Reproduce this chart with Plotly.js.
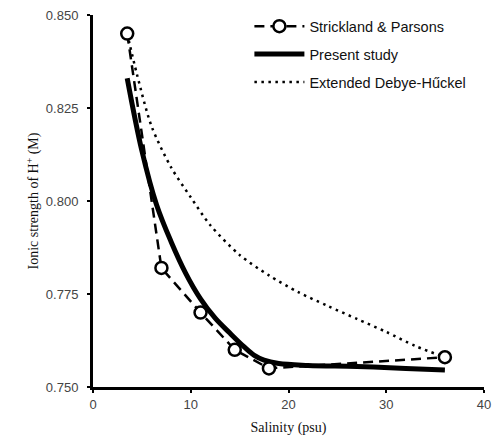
<!DOCTYPE html>
<html>
<head>
<meta charset="utf-8">
<script src="https://cdn.plot.ly/plotly-3.0.1.min.js"></script>
<style>
  html, body { margin: 0; padding: 0; background: #fff; }
  #chart { width: 495px; height: 446px; }
</style>
</head>
<body>
<div id="chart"></div>
<script>
// Strickland & Parsons (measured points)
const spSalinity = [3.5, 7, 11, 14.5, 18, 36];
const spIonic    = [0.845, 0.782, 0.770, 0.760, 0.755, 0.758];

// Present study curve
const psSalinity = [3.5, 5, 6.5, 8, 9.5, 11, 12.5, 14, 15.5, 16.5, 17.5, 19, 22, 27, 32, 36];
const psIonic    = [0.833, 0.8135, 0.799, 0.789, 0.7805, 0.7737, 0.7685, 0.7645, 0.7607, 0.7585, 0.7572, 0.7563, 0.7558, 0.7555, 0.755, 0.7546];

// Extended Debye-Hückel curve
const dhSalinity = [3.5, 4.5, 6, 8, 10, 12, 15, 18, 21, 24, 27, 30, 33, 36];
const dhIonic    = [0.845, 0.834, 0.820, 0.809, 0.801, 0.7935, 0.7855, 0.780, 0.7755, 0.7718, 0.7683, 0.7648, 0.761, 0.758];

const xTicks = [0, 10, 20, 30, 40];
const yTicks = [0.750, 0.775, 0.800, 0.825, 0.850];

const sans = 'Liberation Sans, Arial, sans-serif';
const serif = 'Liberation Serif, DejaVu Serif, serif';

// drawn in this order so the open circles sit on top
const traces = [
  {
    x: psSalinity, y: psIonic, name: 'Present study',
    type: 'scatter', mode: 'lines', legendgroup: 'b', legendrank: 2,
    line: { color: '#000', width: 5, shape: 'spline', smoothing: 1 }
  },
  {
    x: dhSalinity, y: dhIonic, name: 'Extended Debye-H\u0171ckel',
    type: 'scatter', mode: 'lines', legendgroup: 'c', legendrank: 3,
    line: { color: '#000', width: 2.5, dash: '2.5px,4.5px', shape: 'spline', smoothing: 0.8 }
  },
  {
    x: spSalinity, y: spIonic, name: 'Strickland & Parsons',
    type: 'scatter', mode: 'lines+markers', legendgroup: 'a', legendrank: 1,
    line: { color: '#000', width: 2.5, dash: '10px,6px' },
    marker: { symbol: 'circle', size: 12, color: '#fff', line: { color: '#000', width: 2.5 } }
  }
];

const layout = {
  width: 495, height: 446,
  margin: { l: 93, r: 11, t: 14, b: 59 },
  paper_bgcolor: '#fff', plot_bgcolor: '#fff',
  showlegend: true,
  legend: {
    x: 0.40, y: 1.01, xanchor: 'left', yanchor: 'top',
    bgcolor: 'rgba(0,0,0,0)', borderwidth: 0,
    traceorder: 'grouped', tracegroupgap: 6, itemwidth: 50,
    font: { family: sans, size: 14.5, color: '#111' }
  },
  xaxis: {
    range: [0, 40], tickvals: xTicks, ticktext: xTicks.map(String),
    showgrid: false, zeroline: false,
    showline: true, linecolor: '#000', linewidth: 3,
    ticks: 'outside', ticklen: 3, tickwidth: 2, tickcolor: '#000',
    tickfont: { family: sans, size: 13, color: '#444' },
    title: { text: 'Salinity (psu)', font: { family: serif, size: 14, color: '#111' }, standoff: 12 }
  },
  yaxis: {
    range: [0.75, 0.85], tickvals: yTicks, ticktext: yTicks.map(v => v.toFixed(3)),
    showgrid: false, zeroline: false,
    showline: true, linecolor: '#000', linewidth: 3,
    ticks: 'outside', ticklen: 3, tickwidth: 2, tickcolor: '#000',
    ticklabelstandoff: 6,
    tickfont: { family: sans, size: 13, color: '#444' },
    title: { text: 'Ionic strength of H<sup>+</sup> (M)', font: { family: serif, size: 14, color: '#111' }, standoff: 4 }
  }
};

Plotly.newPlot('chart', traces, layout, { displayModeBar: false, staticPlot: true });
</script>
</body>
</html>
